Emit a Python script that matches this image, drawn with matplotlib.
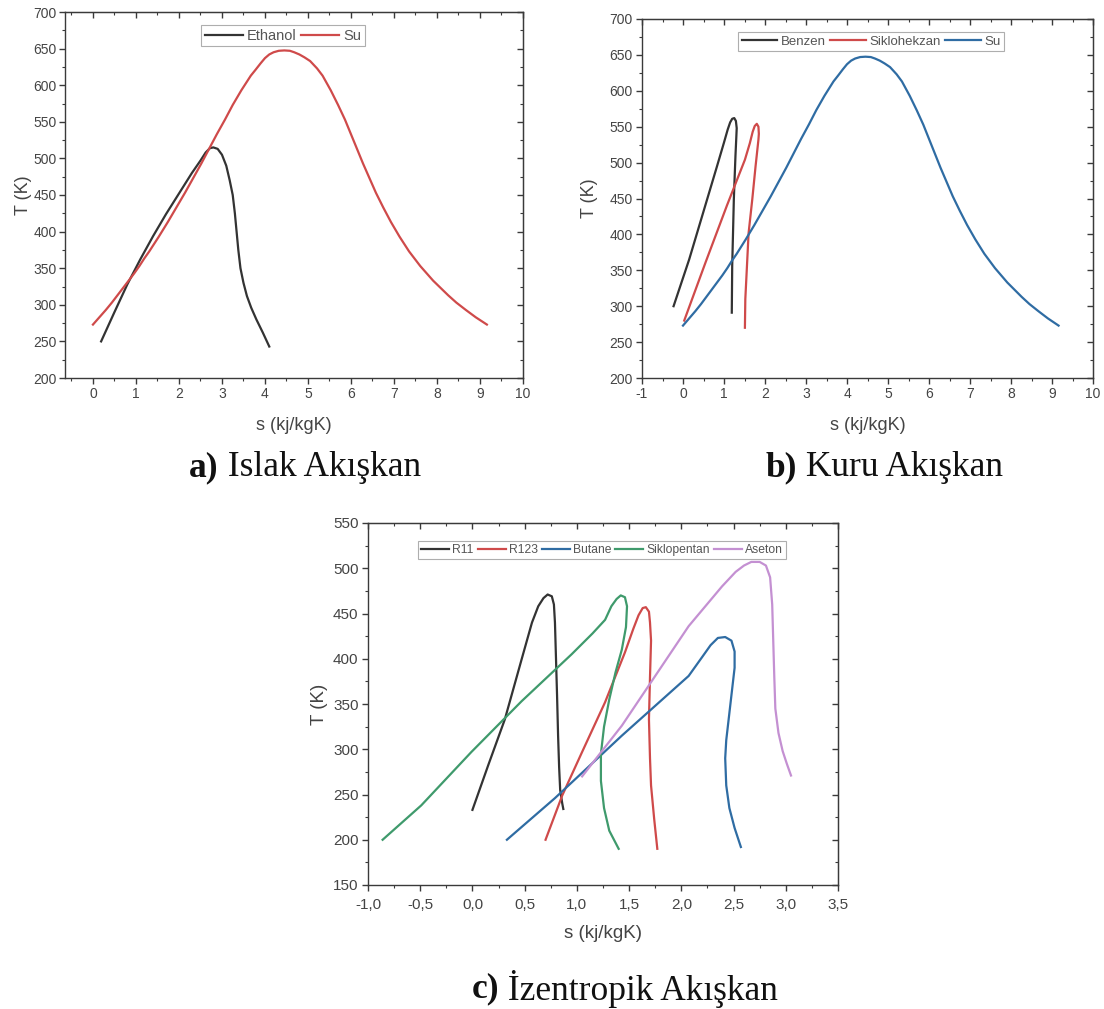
import matplotlib
matplotlib.use("Agg")
import matplotlib.pyplot as plt
from matplotlib.ticker import MultipleLocator, FuncFormatter, NullFormatter

plt.rcParams['font.family'] = ['Liberation Sans', 'DejaVu Sans']
plt.rcParams['axes.unicode_minus'] = False

W, H = 1104, 1009

# ---------------- data ----------------
# Water (Su): saturated liquid + vapour line
su_s = [0.00, 0.15, 0.30, 0.44, 0.57, 0.70, 0.83, 0.96, 1.08, 1.19, 1.31, 1.53, 1.74, 1.94,
        2.14, 2.33, 2.52, 2.70, 2.88, 3.07, 3.25, 3.45, 3.67, 3.78, 3.90, 4.00, 4.10, 4.20,
        4.32, 4.45, 4.58, 4.68, 4.80, 4.92, 5.05, 5.21, 5.34, 5.53, 5.70, 5.86, 6.00, 6.14,
        6.28, 6.43, 6.58, 6.75, 6.93, 7.13, 7.35, 7.61, 7.91, 8.26, 8.45, 8.67, 8.90, 9.16]
su_T = [273, 283, 293, 303, 313, 323, 333, 343, 353, 363, 373, 393, 413, 433,
        453, 473, 493, 513, 533, 553, 573, 593, 613, 621, 630, 637, 642, 645,
        647, 647.5, 647, 645, 642, 638, 633, 623, 613, 593, 573, 553, 533, 513,
        493, 473, 453, 433, 413, 393, 373, 353, 333, 313, 303, 293, 283, 273]

ethanol_s = [0.19, 0.50, 0.80, 1.10, 1.40, 1.70, 2.00, 2.30, 2.50, 2.62, 2.72, 2.80,
             2.90, 3.00, 3.10, 3.18, 3.25, 3.30, 3.34, 3.38, 3.43, 3.50, 3.58, 3.68, 3.80, 3.95, 4.10]
ethanol_T = [250, 290, 328, 362, 394, 424, 452, 480, 497, 508, 514, 515,
             513, 505, 490, 470, 450, 425, 400, 375, 350, 330, 312, 296, 280, 262, 243]

benzen_s = [-0.23, 0.15, 0.49, 0.83, 1.00, 1.09, 1.15, 1.20, 1.25, 1.29, 1.31, 1.30,
            1.28, 1.26, 1.24, 1.22, 1.20, 1.19]
benzen_T = [300, 365, 430, 495, 528, 546, 556, 561, 562, 558, 548, 535,
            510, 480, 449, 402, 356, 291]

siklohekzan_s = [0.03, 0.55, 1.07, 1.51, 1.63, 1.70, 1.75, 1.80, 1.84, 1.85, 1.84, 1.77,
                 1.69, 1.60, 1.56, 1.52, 1.51]
siklohekzan_T = [280, 361, 440, 504, 527, 543, 551, 554, 550, 540, 532, 495,
                 449, 402, 356, 310, 270]

r11_s = [0.00, 0.15, 0.31, 0.47, 0.57, 0.63, 0.68, 0.72, 0.76, 0.78, 0.79, 0.80,
         0.81, 0.82, 0.83, 0.84, 0.86, 0.87]
r11_T = [233, 282, 333, 399, 440, 458, 467, 471, 469, 460, 440, 400,
         360, 315, 280, 255, 240, 234]

r123_s = [0.70, 0.86, 1.05, 1.27, 1.46, 1.54, 1.59, 1.63, 1.66, 1.69, 1.70, 1.71,
          1.70, 1.69, 1.70, 1.71, 1.74, 1.77]
r123_T = [200, 249, 297, 352, 407, 433, 448, 456, 457, 452, 440, 420,
          380, 333, 290, 260, 223, 190]

butane_s = [0.33, 0.79, 1.43, 2.07, 2.20, 2.28, 2.35, 2.42, 2.48, 2.51, 2.51, 2.49,
            2.46, 2.43, 2.42, 2.43, 2.46, 2.51, 2.57]
butane_T = [200, 246, 315, 381, 402, 415, 423, 424, 420, 408, 390, 370,
            340, 310, 290, 260, 235, 213, 192]

siklopentan_s = [-0.86, -0.49, -0.01, 0.47, 0.95, 1.15, 1.27, 1.33, 1.38, 1.42, 1.46,
                 1.48, 1.47, 1.43, 1.37, 1.31, 1.26, 1.23, 1.23, 1.26, 1.31, 1.40]
siklopentan_T = [200, 238, 297, 353, 405, 428, 443, 458, 466, 470, 468,
                 458, 435, 410, 385, 355, 325, 295, 265, 235, 210, 190]

aseton_s = [1.05, 1.43, 1.75, 2.07, 2.39, 2.52, 2.60, 2.67, 2.75, 2.81, 2.85, 2.87,
            2.88, 2.89, 2.90, 2.93, 2.97, 3.01, 3.05]
aseton_T = [270, 326, 381, 436, 480, 496, 503, 507, 507, 503, 490, 460,
            420, 380, 345, 318, 298, 284, 271]

# ---------------- styling ----------------
C_BLACK = '#333333'
C_RED = '#cf4a4a'
C_BLUE = '#2f6ca3'
C_GREEN = '#3f9a6c'
C_PURPLE = '#c490d2'
LW = 1.6
AX_COL = '#3a3a3a'
TXT = '#444444'


def fig_xy(x, y):
    return (x / W, 1 - y / H)


def px_axes(left, right, top, bottom):
    return [left / W, 1 - bottom / H, (right - left) / W, (bottom - top) / H]


def style(ax, xmaj, xmin, ymaj, ymin, tick_fs, lab_fs, xfmt=None,
          xpad=4, ypad=4, ylabpad=4, xlabpad=6):
    ax.xaxis.set_major_locator(MultipleLocator(xmaj))
    ax.xaxis.set_minor_locator(MultipleLocator(xmin))
    ax.yaxis.set_major_locator(MultipleLocator(ymaj))
    ax.yaxis.set_minor_locator(MultipleLocator(ymin))
    if xfmt is not None:
        ax.xaxis.set_major_formatter(xfmt)
    for sp in ax.spines.values():
        sp.set_color(AX_COL)
        sp.set_linewidth(1.0)
    ax.tick_params(which='both', direction='out', colors=AX_COL, labelcolor=TXT,
                   labelsize=tick_fs, top=False, right=False)
    ax.tick_params(axis='x', which='both', pad=xpad)
    ax.tick_params(axis='y', which='both', pad=ypad)
    ax.tick_params(which='major', length=4.3, width=1.0)
    ax.tick_params(which='minor', length=2.5, width=0.8)
    sx = ax.secondary_xaxis('top')
    sx.xaxis.set_major_locator(MultipleLocator(xmaj))
    sx.xaxis.set_minor_locator(MultipleLocator(xmin))
    sx.xaxis.set_major_formatter(NullFormatter())
    sx.tick_params(which='both', direction='in', colors=AX_COL)
    sx.tick_params(which='major', length=4, width=1.0)
    sx.tick_params(which='minor', length=2.5, width=0.8)
    sy = ax.secondary_yaxis('right')
    sy.yaxis.set_major_locator(MultipleLocator(ymaj))
    sy.yaxis.set_minor_locator(MultipleLocator(ymin))
    sy.yaxis.set_major_formatter(NullFormatter())
    sy.tick_params(which='both', direction='in', colors=AX_COL)
    sy.tick_params(which='major', length=4, width=1.0)
    sy.tick_params(which='minor', length=2.5, width=0.8)
    for s in (sx, sy):
        for sp in s.spines.values():
            sp.set_color(AX_COL)
    ax.set_ylabel('T (K)', fontsize=lab_fs, color=TXT, labelpad=ylabpad)
    ax.set_xlabel('s (kj/kgK)', fontsize=lab_fs, color=TXT, labelpad=xlabpad)


def legend(ax, handles, labels, cx, top, fs, hl):
    lg = ax.legend(handles, labels, loc='upper center', bbox_to_anchor=fig_xy(cx, top),
                   bbox_transform=fig.transFigure,
                   ncol=len(labels), fontsize=fs, frameon=True, fancybox=False,
                   handlelength=hl, handletextpad=0.25, columnspacing=0.35,
                   borderpad=0.25, borderaxespad=0.0)
    lg.get_frame().set_edgecolor('#9a9a9a')
    lg.get_frame().set_linewidth(0.8)
    for t in lg.get_texts():
        t.set_color('#555555')
    return lg


fig = plt.figure(figsize=(W / 100, H / 100), dpi=100)
fig.patch.set_facecolor('white')

# ---- panel a ----
axa = fig.add_axes(px_axes(65, 523, 12, 378))
la, = axa.plot(ethanol_s, ethanol_T, color=C_BLACK, lw=LW)
lb, = axa.plot(su_s, su_T, color=C_RED, lw=LW)
axa.set_xlim(-0.65, 10)
axa.set_ylim(200, 700)
style(axa, 1, 0.5, 50, 25, 10, 13, xpad=2.5, ypad=1.5, ylabpad=1, xlabpad=11)
legend(axa, [la, lb], ['Ethanol', 'Su'], 283, 25, 10.5, 2.6)

# ---- panel b ----
axb = fig.add_axes(px_axes(642, 1093, 19, 378))
l1, = axb.plot(benzen_s, benzen_T, color=C_BLACK, lw=LW)
l2, = axb.plot(siklohekzan_s, siklohekzan_T, color=C_RED, lw=LW)
l3, = axb.plot(su_s, su_T, color=C_BLUE, lw=LW)
axb.set_xlim(-1, 10)
axb.set_ylim(200, 700)
style(axb, 1, 0.5, 50, 25, 10, 13, xpad=2.5, ypad=2.5, ylabpad=8, xlabpad=11)
legend(axb, [l1, l2, l3], ['Benzen', 'Siklohekzan', 'Su'], 871, 32, 9.5, 2.7)

# ---- panel c ----
axc = fig.add_axes(px_axes(368, 838, 523, 885))
m1, = axc.plot(r11_s, r11_T, color=C_BLACK, lw=LW)
m2, = axc.plot(r123_s, r123_T, color=C_RED, lw=LW)
m3, = axc.plot(butane_s, butane_T, color=C_BLUE, lw=LW)
m4, = axc.plot(siklopentan_s, siklopentan_T, color=C_GREEN, lw=LW)
m5, = axc.plot(aseton_s, aseton_T, color=C_PURPLE, lw=LW)
axc.set_xlim(-1.0, 3.5)
axc.set_ylim(150, 550)
comma = FuncFormatter(lambda v, p: ('%.1f' % v).replace('.', ','))
style(axc, 0.5, 0.25, 50, 25, 11, 13.5, xfmt=comma, xpad=5, ypad=2.5, ylabpad=4, xlabpad=9.5)
legend(axc, [m1, m2, m3, m4, m5], ['R11', 'R123', 'Butane', 'Siklopentan', 'Aseton'],
       602, 541, 8.7, 2.3)

# ---- captions ----
CAP = 25.5
caps = []
for cx, cy, b, r in [(305, 468, 'a)', ' Islak Akışkan'),
                     (884, 468, 'b)', ' Kuru Akışkan'),
                     (625, 989, 'c)', ' İzentropik Akışkan')]:
    t1 = fig.text(0, 1 - cy / H, b, fontweight='bold', family='Liberation Serif',
                  fontsize=CAP, va='center', ha='left', color='#111111')
    t2 = fig.text(0, 1 - cy / H, r, family='Liberation Serif',
                  fontsize=CAP, va='center', ha='left', color='#111111')
    caps.append((cx, t1, t2))

fig.canvas.draw()
rend = fig.canvas.get_renderer()
for cx, t1, t2 in caps:
    w1 = t1.get_window_extent(rend).width
    w2 = t2.get_window_extent(rend).width
    x0 = cx - (w1 + w2) / 2
    t1.set_x(x0 / W)
    t2.set_x((x0 + w1) / W)

fig.savefig('out.png', dpi=100, facecolor='white')
